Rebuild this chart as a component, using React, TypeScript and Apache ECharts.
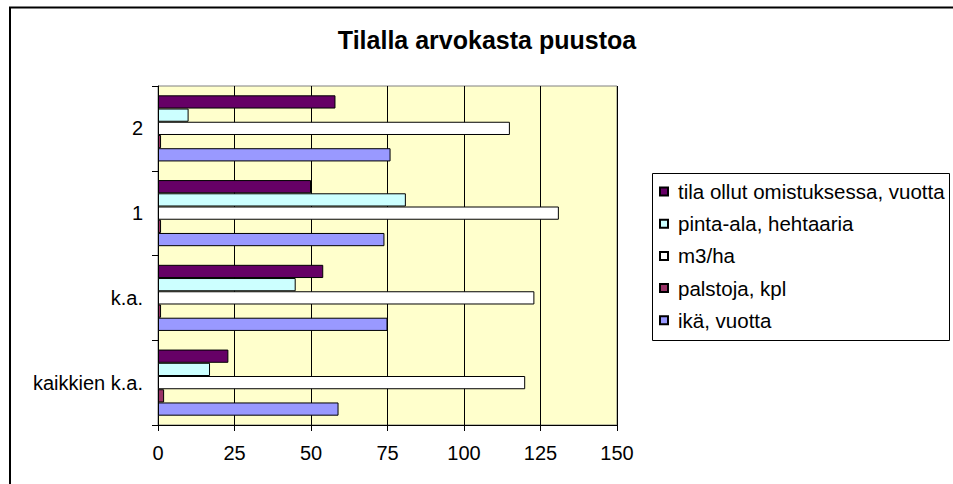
import React, { useEffect, useRef } from "react";
import * as echarts from "echarts";

const categories = ["kaikkien k.a.", "k.a.", "1", "2"];
const seriesNames = [
  "tila ollut omistuksessa, vuotta",
  "pinta-ala, hehtaaria",
  "m3/ha",
  "palstoja, kpl",
  "ikä, vuotta",
];
const tilaOllut = [23, 54, 50, 58];
const pintaAla = [17, 45, 81, 10];
const m3ha = [120, 123, 131, 115];
const palstoja = [2, 1, 1, 1];
const ika = [59, 75, 74, 76];
const seriesValues = [tilaOllut, pintaAla, m3ha, palstoja, ika];
const seriesColors = ["#660066", "#CCFFFF", "#FFFFFF", "#993366", "#9999FF"];
const xTicks = [0, 25, 50, 75, 100, 125, 150];

const FONT = "'Liberation Sans', Arial, sans-serif";

export default function App() {
  const ref = useRef<HTMLDivElement>(null);
  useEffect(() => {
    if (!ref.current) return;
    const chart = echarts.init(ref.current, null, { renderer: "svg" });
    chart.setOption({
      animation: false,
      backgroundColor: "#ffffff",
      graphic: [
        {
          type: "rect",
          shape: { x: 10, y: 7.5, width: 1200, height: 1000 },
          style: { fill: "none", stroke: "#000", lineWidth: 2 },
          silent: true,
          z: 0,
        },
        {
          type: "text",
          x: 487,
          y: 40,
          style: {
            text: "Tilalla arvokasta puustoa",
            fontFamily: FONT,
            fontWeight: "bold",
            fontSize: 25,
            fill: "#000",
            align: "center",
            verticalAlign: "middle",
          },
          silent: true,
        },
        {
          type: "rect",
          shape: { x: 652.5, y: 173.5, width: 297, height: 167 },
          style: { fill: "#fff", stroke: "#000", lineWidth: 1 },
          silent: true,
          z: 0,
        },
      ],
      grid: {
        left: 158,
        top: 86,
        right: 336,
        bottom: 59,
        show: true,
        backgroundColor: "#FFFFCC",
        borderColor: "#808080",
        borderWidth: 1,
        containLabel: false,
      },
      legend: {
        orient: "vertical",
        left: 659,
        top: 181,
        padding: 0,
        itemWidth: 8,
        itemHeight: 8,
        itemGap: 11.2,
        icon: "rect",
        data: seriesNames,
        textStyle: {
          fontFamily: FONT,
          fontSize: 20.5,
          color: "#000",
          padding: [0, 0, 0, 5],
        },
        z: 5,
      },
      xAxis: {
        type: "value",
        min: xTicks[0],
        max: xTicks[xTicks.length - 1],
        interval: 25,
        axisLine: { show: true, lineStyle: { color: "#000", width: 1 } },
        axisTick: { show: true, length: 6, lineStyle: { color: "#000" } },
        axisLabel: {
          fontFamily: FONT,
          fontSize: 20,
          color: "#000",
          margin: 18,
        },
        splitLine: { show: true, lineStyle: { color: "#000", width: 1 } },
      },
      yAxis: {
        type: "category",
        data: categories,
        axisLine: { show: true, lineStyle: { color: "#000", width: 1 } },
        axisTick: { show: true, length: 6, lineStyle: { color: "#000" } },
        axisLabel: {
          fontFamily: FONT,
          fontSize: 20,
          color: "#000",
          margin: 15,
        },
        splitLine: { show: false },
      },
      series: seriesNames.map((name, i) => ({
        name,
        type: "bar",
        data: seriesValues[i],
        barGap: "0%",
        barCategoryGap: "22%",
        itemStyle: {
          color: seriesColors[i],
          borderColor: "#000",
          borderWidth: 1,
        },
      })),
    });
    return () => chart.dispose();
  }, []);
  return (
    <div
      ref={ref}
      style={{ position: "absolute", left: 0, top: 0, width: 953, height: 484 }}
    />
  );
}
